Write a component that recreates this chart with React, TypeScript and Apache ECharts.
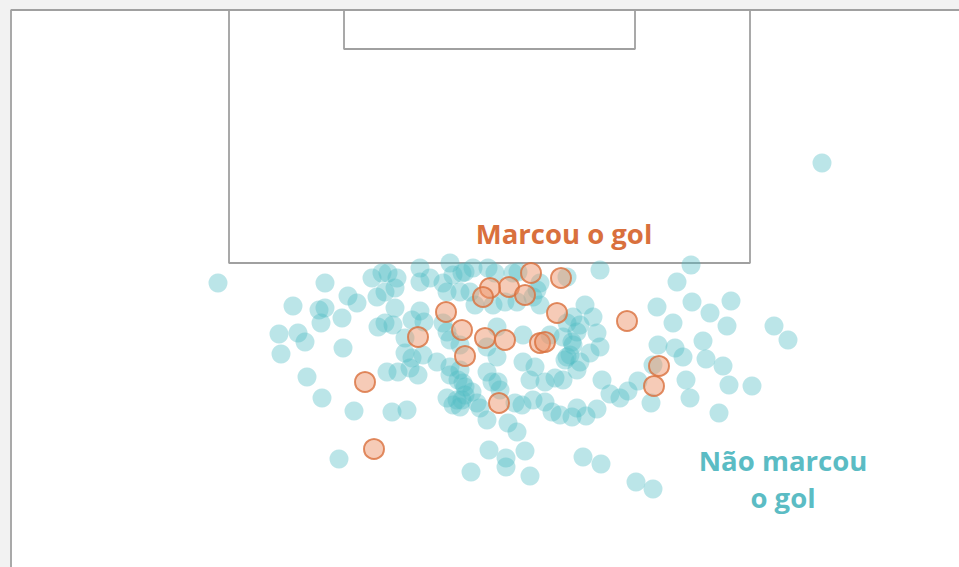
import React, { useEffect, useRef } from "react";
import * as echarts from "echarts";

// Pitch coordinate system: x 0..959 (left→right), y 0..567 (goal line at top)
const X_MAX = 959;
const Y_MAX = 567;

// Pitch markings (in pitch units)
const outerLine: number[][] = [[11, 567], [11, 10], [959, 10]];
const penaltyBox: number[][] = [[229, 10], [229, 263], [750, 263], [750, 10]];
const goalArea: number[][] = [[344, 10], [344, 49], [635, 49], [635, 10]];

// Shots that scored
const goalShots: number[][] = [
  [531, 273], [561, 278], [509, 287], [490, 288], [483, 297], [525, 295],
  [557, 313], [446, 312], [462, 330], [418, 337], [485, 338], [505, 340],
  [540, 343], [545, 342], [465, 356], [627, 321], [659, 366], [654, 386],
  [365, 382], [374, 449], [499, 403],
];

// Shots that did not score
const missedShots: number[][] = [
  [218, 283], [325, 283], [348, 296], [357, 303], [293, 306], [319, 310], [325, 308],
  [321, 323], [342, 318], [279, 334], [298, 333], [305, 342], [281, 354], [343, 348],
  [307, 377], [322, 398], [354, 411], [339, 459],
  [372, 278], [382, 273], [388, 273], [397, 278], [377, 297], [385, 292], [395, 288],
  [395, 308], [420, 268], [420, 282], [430, 278], [450, 263], [453, 275], [447, 292],
  [443, 283], [462, 273], [460, 292], [412, 320], [420, 311], [424, 322], [378, 327],
  [385, 323], [393, 325], [405, 338], [447, 332], [443, 323], [460, 345], [450, 340],
  [387, 372], [398, 372], [405, 353], [412, 358], [410, 368], [418, 375], [423, 355],
  [437, 362], [392, 412], [407, 410], [450, 375], [458, 380], [447, 398],
  [453, 405], [460, 407], [457, 400], [450, 367], [460, 370], [463, 383], [465, 395],
  [465, 272], [473, 268], [488, 268], [495, 273], [513, 273], [518, 272], [470, 292],
  [475, 305], [493, 305], [505, 302], [517, 302], [537, 290], [533, 297], [540, 283],
  [567, 277], [540, 305], [497, 327], [523, 335], [567, 323], [573, 317], [563, 337],
  [577, 332], [550, 335], [487, 347], [497, 357], [523, 362], [535, 367], [530, 380],
  [545, 382], [555, 378], [563, 380], [565, 360], [570, 355], [577, 370], [573, 345],
  [487, 372], [492, 382], [498, 382], [500, 390], [465, 387], [472, 392], [462, 400],
  [477, 403], [480, 408], [515, 403], [522, 405], [533, 400], [545, 402], [552, 412],
  [560, 415], [572, 417], [577, 408], [487, 420], [508, 423], [517, 432],
  [489, 450], [506, 458], [506, 467], [525, 451], [471, 472], [530, 476], [583, 457],
  [601, 464], [636, 482], [653, 489],
  [600, 270], [677, 282], [691, 265], [657, 307], [673, 323], [585, 305], [593, 317],
  [580, 325], [597, 333], [600, 347], [590, 353], [572, 342], [567, 357], [580, 362],
  [658, 345], [675, 348], [683, 357], [653, 365], [602, 380], [610, 394], [620, 398],
  [628, 391], [638, 381], [651, 403], [597, 409], [586, 416], [710, 313], [727, 326],
  [731, 301], [692, 302], [703, 341], [706, 359], [723, 366], [729, 385], [686, 380],
  [690, 398], [719, 413], [752, 386], [774, 326], [788, 340], [822, 163],
];

const goalLabel = "Marcou o gol";
const missLabel = ["Não marcou", "o gol"];

const LINE_COLOR = "#a0a0a0";
const ORANGE = "#d9703d";
const TEAL = "#5bbcc4";

export default function App() {
  const ref = useRef<HTMLDivElement>(null);

  useEffect(() => {
    document.body.style.margin = "0";
    if (!ref.current) return;
    const chart = echarts.init(ref.current, null, { renderer: "svg" });

    const pitchSeries = (data: number[][]) => ({
      type: "line",
      data,
      symbol: "none",
      silent: true,
      z: 1,
      lineStyle: { color: LINE_COLOR, width: 1.8 },
    });

    chart.setOption({
      animation: false,
      backgroundColor: "#ffffff",
      grid: { left: 0, right: 0, top: 0, bottom: 0 },
      xAxis: { type: "value", min: 0, max: X_MAX, show: false },
      yAxis: { type: "value", min: 0, max: Y_MAX, inverse: true, show: false },
      graphic: [
        {
          type: "rect",
          z: -10,
          shape: { x: 0, y: 0, width: 959, height: 9 },
          style: { fill: "#f2f2f2" },
          silent: true,
        },
        {
          type: "rect",
          z: -10,
          shape: { x: 0, y: 0, width: 10, height: 567 },
          style: { fill: "#f2f2f2" },
          silent: true,
        },
        {
          type: "text",
          x: 564,
          y: 233,
          style: {
            text: goalLabel,
            fill: ORANGE,
            font: "bold 27.5px 'Open Sans'",
            align: "center",
            verticalAlign: "middle",
          },
        },
        {
          type: "text",
          x: 783,
          y: 479,
          style: {
            text: missLabel.join("\n"),
            fill: TEAL,
            font: "bold 27.5px 'Open Sans'",
            lineHeight: 37,
            align: "center",
            verticalAlign: "middle",
          },
        },
      ],
      series: [
        pitchSeries(outerLine),
        pitchSeries(penaltyBox),
        pitchSeries(goalArea),
        {
          type: "scatter",
          name: "Não marcou o gol",
          data: missedShots,
          symbol: "circle",
          symbolSize: 19,
          z: 2,
          itemStyle: { color: "rgba(78,187,196,0.48)" },
        },
        {
          type: "scatter",
          name: "Marcou o gol",
          data: goalShots,
          symbol: "circle",
          symbolSize: 20,
          z: 3,
          itemStyle: {
            color: "rgba(236,150,110,0.62)",
            borderColor: "#d9703d",
            borderWidth: 2,
          },
        },
      ],
    });

    return () => chart.dispose();
  }, []);

  return <div ref={ref} style={{ width: 959, height: 567 }} />;
}
